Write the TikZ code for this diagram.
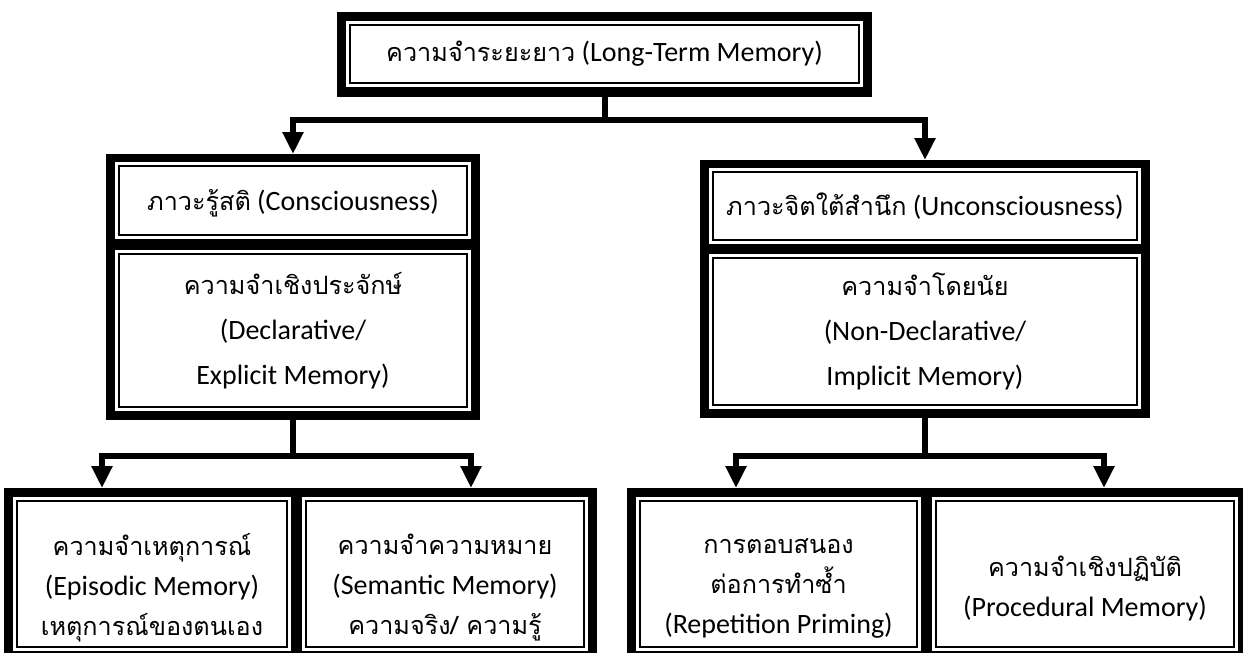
\documentclass[tikz,border=0pt]{standalone}
\usepackage{fontspec}
\setmainfont{Carlito}
\newfontfamily\thaifont[Script=Thai,Scale=0.9]{Loma}
\newcommand\tht[1]{{\thaifont #1}}
\usetikzlibrary{arrows.meta,calc}
\tikzset{
  frame/.style={fill=black, draw=none, inner sep=0pt, outer sep=0pt, anchor=north west},
  sub/.style={draw=black, line width=2.2pt, double=white, double distance=3pt, fill=white,
    inner sep=0pt, outer sep=0pt, anchor=north west, align=center, text=black},
  txt/.style={inner sep=0pt, align=center, text=black},
  bigfont/.style={font=\fontsize{28}{45}\selectfont},
  smallfont/.style={font=\fontsize{28}{40}\selectfont},
  conn/.style={line width=6pt, draw=black, line join=miter},
  arr/.style={conn, -{Triangle[width=20pt,length=22pt]}}
}
\begin{document}
\begin{tikzpicture}[x=1pt,y=-1pt]
\useasboundingbox (0,0) rectangle (1243,653);
\clip (0,0) rectangle (1243,653);
\fill[white] (0,0) rectangle (1243,653);
% top
\node[frame, minimum width=535pt, minimum height=85pt] (top) at (337,12) {};
\node[sub, bigfont, minimum width=514pt, minimum height=63pt] (topt) at (347.5,22.5)
  {\tht{ความจำระยะยาว} (Long-Term Memory)};
% left big
\node[frame, minimum width=374pt, minimum height=266pt] (Lf) at (106,154) {};
\node[sub, minimum width=353pt, minimum height=74pt] (La) at (116.5,163.5) {};
\node[txt, bigfont] (Lat) at ($(La.center)+(0,3)$) {\tht{ภาวะรู้สติ} (Consciousness)};
\node[sub, bigfont, minimum width=353pt, minimum height=158pt] (Lb) at (116.5,251.5)
  {\tht{ความจำเชิงประจักษ์}\\(Declarative/\\Explicit Memory)};
% right big
\node[frame, minimum width=450pt, minimum height=258pt] (Rf) at (700,160) {};
\node[sub, bigfont, minimum width=429pt, minimum height=73pt] (Ra) at (710.5,169.5)
  {\tht{ภาวะจิตใต้สำนึก} (Unconsciousness)};
\node[sub, bigfont, minimum width=429pt, minimum height=152pt] (Rb) at (710.5,255.5)
  {\tht{ความจำโดยนัย}\\(Non-Declarative/\\Implicit Memory)};
% bottom left
\node[frame, minimum width=593pt, minimum height=180pt] (BLf) at (4,488) {};
\node[sub, minimum width=275pt, minimum height=151pt] (BLa) at (14.5,498.5) {};
\node[sub, minimum width=283pt, minimum height=151pt] (BLb) at (303.5,498.5) {};
\node[txt, smallfont] (BLat) at ($(BLa.center)+(0,14)$)
  {\tht{ความจำเหตุการณ์}\\(Episodic Memory)\\\tht{เหตุการณ์ของตนเอง}};
\node[txt, smallfont] (BLbt) at ($(BLb.center)+(0,14)$)
  {\tht{ความจำความหมาย}\\(Semantic Memory)\\\tht{ความจริง/ ความรู้}};
% bottom right
\node[frame, minimum width=625pt, minimum height=180pt] (BRf) at (627,488) {};
\node[sub, minimum width=282pt, minimum height=151pt] (BRa) at (637.5,498.5) {};
\node[sub, minimum width=303pt, minimum height=151pt] (BRb) at (933.5,498.5) {};
\node[txt, smallfont] (BRat) at ($(BRa.center)+(0,14)$)
  {\tht{การตอบสนอง}\\\tht{ต่อการทำซ้ำ}\\(Repetition Priming)};
\node[txt, smallfont] (BRbt) at ($(BRb.center)+(0,14)$)
  {\tht{ความจำเชิงปฏิบัติ}\\(Procedural Memory)};
% connectors
\coordinate (b1) at (604.5,120);
\coordinate (b2) at (293,456);
\coordinate (b3) at (925,456);
\coordinate (tBLa) at (102,488);
\coordinate (tBLb) at (471,488);
\coordinate (tBRa) at (736,488);
\coordinate (tBRb) at (1104,488);
\draw[conn] (top.south) -- (b1);
\draw[arr] (b1) -| (Lf.north);
\draw[arr] (b1) -| (Rf.north);
\draw[conn] (Lf.south) -- (b2);
\draw[arr] (b2) -| (tBLa);
\draw[arr] (b2) -| (tBLb);
\draw[conn] (Rf.south) -- (b3);
\draw[arr] (b3) -| (tBRa);
\draw[arr] (b3) -| (tBRb);
\end{tikzpicture}
\end{document}
